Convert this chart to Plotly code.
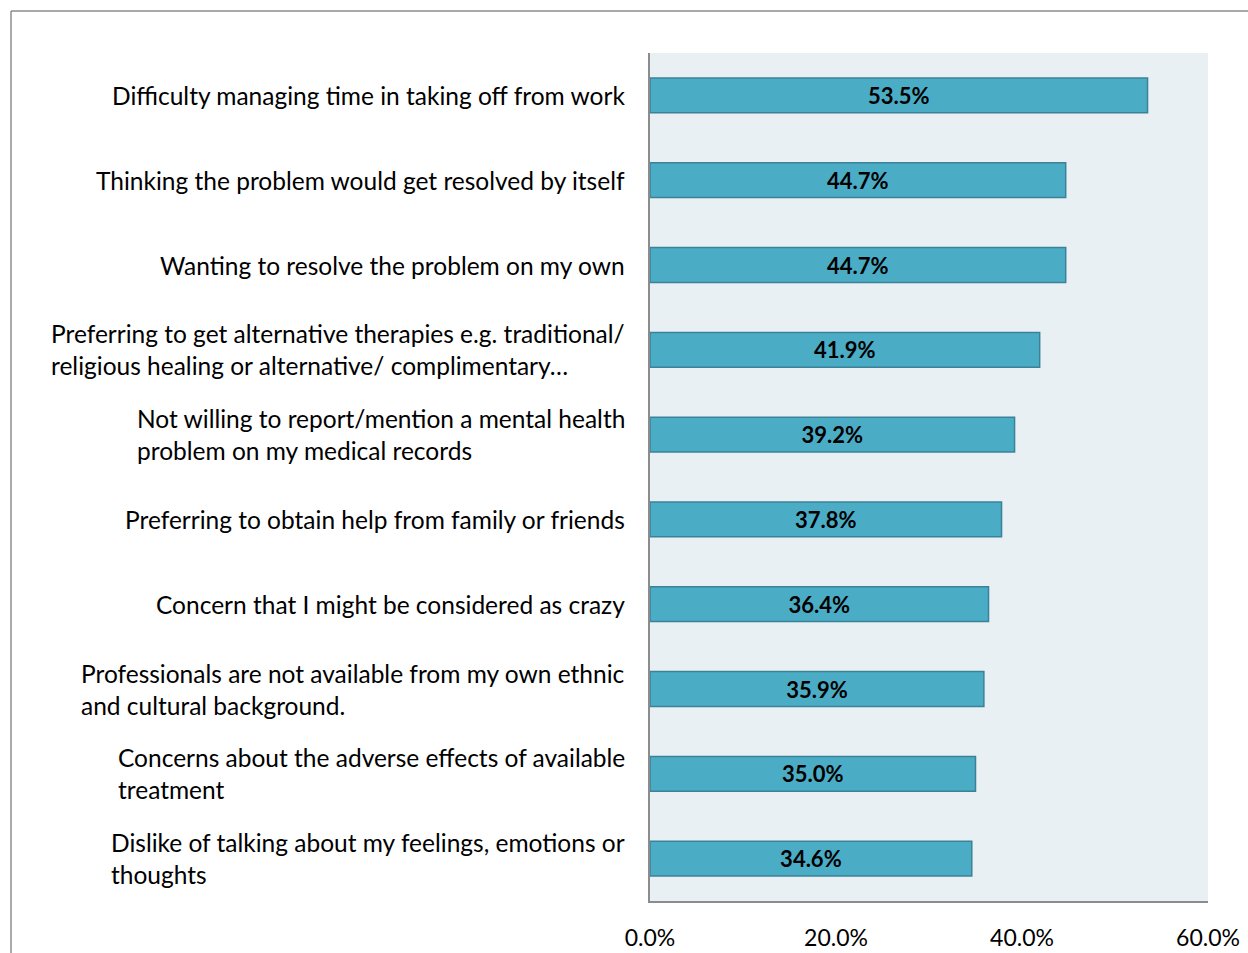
import plotly.graph_objects as go

categories = [
    "Difficulty managing time in taking off from work",
    "Thinking the problem would get resolved by itself",
    "Wanting to resolve the problem on my own",
    "Preferring to get alternative therapies e.g. traditional/<br>religious healing or alternative/ complimentary…",
    "Not willing to report/mention a mental health<br>problem on my medical records",
    "Preferring to obtain help from family or friends",
    "Concern that I might be considered as crazy",
    "Professionals are not available from my own ethnic<br>and cultural background.",
    "Concerns about the adverse effects of available<br>treatment",
    "Dislike of talking about my feelings, emotions or<br>thoughts",
]
values = [53.5, 44.7, 44.7, 41.9, 39.2, 37.8, 36.4, 35.9, 35.0, 34.6]
tick_vals = [0, 20, 40, 60]
tick_text = ["0.0%", "20.0%", "40.0%", "60.0%"]

FONT = "Lato"
W, H = 1248, 953
L, R, T, B = 650, 40, 53, 52
pw = W - L - R
ph = H - T - B

ids = list(range(len(categories)))

fig = go.Figure()
fig.add_trace(go.Bar(
    x=values, y=ids, orientation="h",
    marker=dict(color="#4BACC6", line=dict(color="#3B8298", width=1.5)),
    width=0.41,
    texttemplate="%{x:.1f}%",
    textposition="inside", insidetextanchor="middle",
    textfont=dict(family=FONT, size=22, color="black", weight="bold"),
    hoverinfo="skip",
))

for i, c in zip(ids, categories):
    fig.add_annotation(x=0, xref="paper", y=i, yref="y", text=c,
                       xanchor="right", yanchor="middle", align="left",
                       xshift=-23, showarrow=False,
                       font=dict(family=FONT, size=24.5, color="black"))

def px_x(p):
    return (p - L) / pw
def px_y(p):
    return (H - B - p) / ph

line = dict(color="#8C8C8C", width=1.5)
fig.add_shape(type="line", xref="paper", yref="paper", x0=px_x(11), x1=px_x(1260),
              y0=px_y(11), y1=px_y(11), line=line)
fig.add_shape(type="line", xref="paper", yref="paper", x0=px_x(11), x1=px_x(11),
              y0=px_y(11), y1=px_y(970), line=line)

fig.update_layout(
    width=W, height=H,
    margin=dict(l=L, r=R, t=T, b=B, autoexpand=False),
    paper_bgcolor="white", plot_bgcolor="#E9F0F4",
    showlegend=False,
    font=dict(family=FONT, size=22, color="black"),
)
fig.update_xaxes(range=[0, 60], tickvals=tick_vals, ticktext=tick_text,
                 showgrid=False, zeroline=False, showline=True, linecolor="#8C8C8C",
                 linewidth=1.5, ticks="", ticklabelstandoff=16, automargin=False,
                 tickfont=dict(family=FONT, size=23, color="black"), fixedrange=True)
fig.update_yaxes(range=[len(categories) - 0.5, -0.5], showticklabels=False, showgrid=False,
                 zeroline=False, showline=True, linecolor="#8C8C8C", linewidth=1.5,
                 ticks="", fixedrange=True, automargin=False)

fig.write_html("out.html", config={"displayModeBar": False},
               post_script="document.body.style.margin='0px';")
